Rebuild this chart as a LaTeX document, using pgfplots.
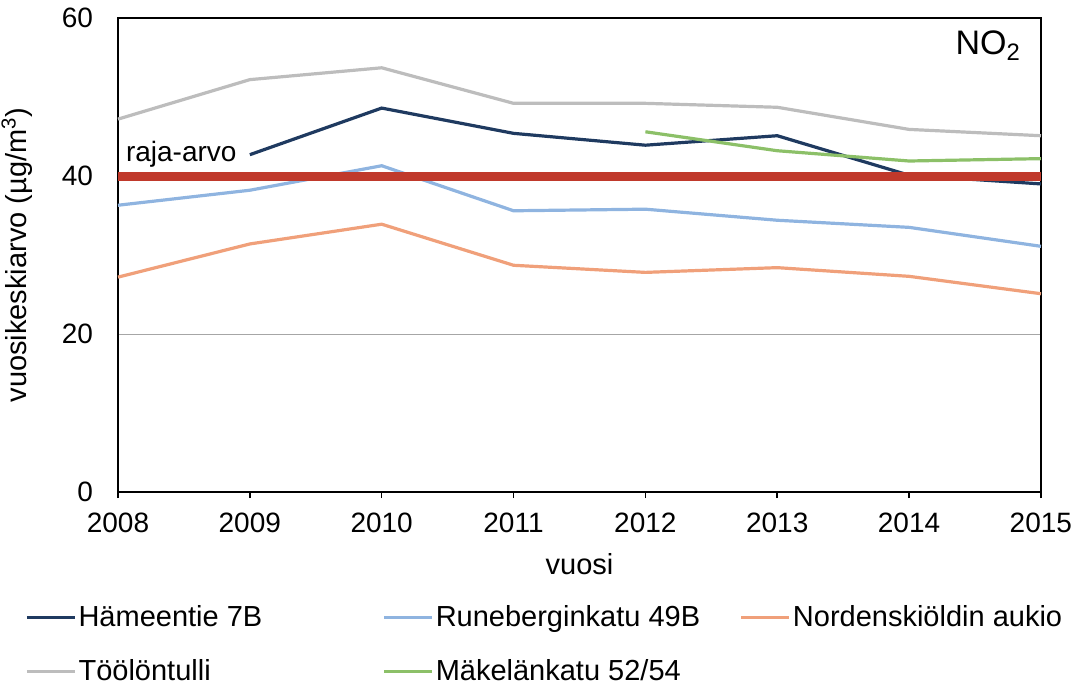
\documentclass[border=0pt]{standalone}
\usepackage{pgfplots}
\pgfplotsset{compat=1.18}
\usepackage{fontspec}
\setmainfont{Liberation Sans}
\definecolor{navy}{HTML}{1F3A60}
\definecolor{lblue}{HTML}{8FB4E0}
\definecolor{orng}{HTML}{F0A07A}
\definecolor{lgray}{HTML}{BDBDBD}
\definecolor{lgreen}{HTML}{8CC068}
\definecolor{lred}{HTML}{C0392B}
\begin{document}
\begin{tikzpicture}
\path[use as bounding box] (-59pt,-97.5pt) rectangle (479.5pt,246pt);
\begin{axis}[
  scale only axis, width=461.5pt, height=237pt,
  xmin=2008, xmax=2015, ymin=0, ymax=60,
  xtick={2008,...,2015}, ytick={0,20,40,60},
  xticklabel style={/pgf/number format/1000 sep={}, yshift=-4pt},
  yticklabel style={xshift=-6pt},
  /pgf/number format/assume math mode=true,
  tick label style={font=\fontsize{14}{16}\selectfont},
  label style={font=\fontsize{14.5}{16}\selectfont},
  xtick pos=bottom, ytick pos=left,
  xtick style={draw=black, line width=0.8pt}, ytick style={draw=none},
  tick align=outside, major tick length=3pt,
  axis line style={line width=1pt},
  ymajorgrids, grid style={gray!70, line width=0.5pt},
  xlabel={vuosi}, ylabel={vuosikeskiarvo (µg/m\textsuperscript{3})},
  xlabel style={yshift=-3.5pt},
  ylabel style={yshift=8pt},
  every axis plot/.append style={line width=1.6pt},
  legend columns=3,
  legend image code/.code={\draw[#1] (0pt,0pt) -- (24pt,0pt);},
  legend style={at={(-0.1008,-0.3217)}, anchor=west, draw=none, fill=none,
    font=\fontsize{14.5}{16}\selectfont, inner sep=0pt, column sep=0pt, row sep=11pt,
    nodes={inner xsep=1pt}},
  legend cell align=left,
  clip=false,
]
\addplot[navy] coordinates {(2009,42.7) (2010,48.6) (2011,45.4) (2012,43.9) (2013,45.1) (2014,40.1) (2015,39.0)};
\addlegendentry{\makebox[151pt][l]{Hämeentie 7B}}
\addplot[lblue] coordinates {(2008,36.3) (2009,38.2) (2010,41.3) (2011,35.6) (2012,35.8) (2013,34.4) (2014,33.5) (2015,31.1)};
\addlegendentry{\makebox[151pt][l]{Runeberginkatu 49B}}
\addplot[orng] coordinates {(2008,27.2) (2009,31.4) (2010,33.9) (2011,28.7) (2012,27.8) (2013,28.4) (2014,27.3) (2015,25.1)};
\addlegendentry{Nordenskiöldin aukio}
\addplot[lgray] coordinates {(2008,47.2) (2009,52.2) (2010,53.7) (2011,49.2) (2012,49.2) (2013,48.7) (2014,45.9) (2015,45.1)};
\addlegendentry{\makebox[151pt][l]{Töölöntulli}}
\addplot[lgreen] coordinates {(2012,45.6) (2013,43.2) (2014,41.9) (2015,42.2)};
\addlegendentry{Mäkelänkatu 52/54}
\addplot[lred, line width=4.5pt, forget plot] coordinates {(2008,40) (2015,40)};
\node[font=\fontsize{14}{16}\selectfont, anchor=center] at (axis cs:2008.48,42.7) {raja-arvo};
\node[font=\fontsize{17}{18}\selectfont, anchor=center] at (axis cs:2014.6,56.5) {NO\textsubscript{2}};
\end{axis}
\end{tikzpicture}
\end{document}
